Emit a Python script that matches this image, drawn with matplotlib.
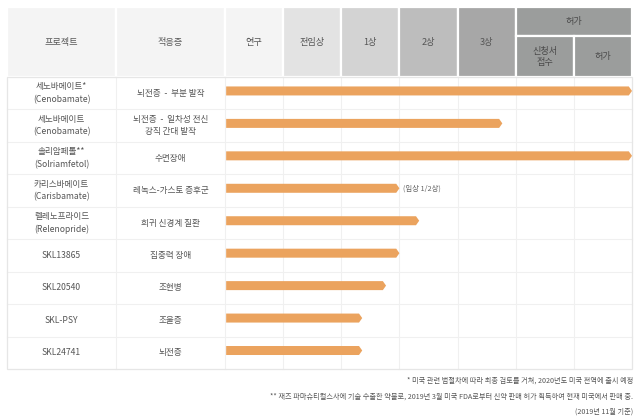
import matplotlib
matplotlib.use("Agg")
import matplotlib.pyplot as plt
from matplotlib.patches import Rectangle, Polygon

plt.rcParams['font.family'] = ['Noto Sans CJK KR', 'DejaVu Sans']

# ---------------- data ----------------
projects = ["세노바메이트*\n(Cenobamate)", "세노바메이트\n(Cenobamate)", "솔리암페톨**\n(Solriamfetol)",
            "카리스바메이트\n(Carisbamate)", "렐레노프라이드\n(Relenopride)", "SKL13865",
            "SKL20540", "SKL-PSY", "SKL24741"]
indications = ["뇌전증  -  부분 발작", "뇌전증  -  일차성 전신\n강직 간대 발작", "수면장애",
               "레녹스-가스토 증후군", "희귀 신경계 질환", "집중력 장애", "조현병", "조울증", "뇌전증"]
# progress measured in stage columns (0 = start of 연구, 7 = end of 허가)
progress = [7.0, 4.77, 7.0, 3.0, 3.34, 3.0, 2.77, 2.36, 2.36]
bar_notes = ["", "", "", "(임상 1/2상)", "", "", "", "", ""]
stages = ["연구", "전임상", "1상", "2상", "3상"]
approval_group = "허가"
approval_sub = ["신청서\n접수", "허가"]
footnotes = ["* 미국 관련 법절차에 따라 최종 검토를 거쳐, 2020년도 미국 전역에 출시 예정",
             "** 재즈 파마슈티컬스사에 기술 수출한 약물로, 2019년 3월 미국 FDA로부터 신약 판매 허가 획득하여 현재 미국에서 판매 중.",
             "(2019년 11월 기준)"]
hdr_project = "프로젝트"
hdr_indication = "적응증"

# ---------------- layout (pixels) ----------------
W, H = 640, 419
fig = plt.figure(figsize=(W / 100, H / 100), dpi=100)
fig.patch.set_facecolor("white")
bg = fig.add_axes([0, 0, 1, 1])
bg.set_xlim(0, W)
bg.set_ylim(H, 0)
bg.axis("off")

L, R = 7, 632
top, hb, bb = 7, 77, 369
c_proj, c_ind, c_stage = 7, 116, 225
sw = (R - c_stage) / 7.0
n = len(projects)
rh = (bb - hb) / n

txt = "#555555"
stage_colors = ["#F4F4F4", "#E3E3E3", "#D3D3D3", "#BDBDBD", "#A7A7A7"]
appr_color = "#9B9D9C"

def cell(x0, y0, x1, y1, fc):
    bg.add_patch(Rectangle((x0, y0), x1 - x0, y1 - y0, facecolor=fc,
                           edgecolor="white", linewidth=1.6, zorder=1))

fs_h = 6.6
cell(c_proj, top, c_ind, hb, "#F4F4F4")
bg.text((c_proj + c_ind) / 2, (top + hb) / 2, hdr_project, ha="center", va="center", fontsize=fs_h, color=txt)
cell(c_ind, top, c_stage, hb, "#F4F4F4")
bg.text((c_ind + c_stage) / 2, (top + hb) / 2, hdr_indication, ha="center", va="center", fontsize=fs_h, color=txt)
for i, s in enumerate(stages):
    x0 = c_stage + i * sw
    cell(x0, top, x0 + sw, hb, stage_colors[i])
    bg.text(x0 + sw / 2, (top + hb) / 2, s, ha="center", va="center", fontsize=fs_h, color=txt)
ax0 = c_stage + 5 * sw
mid = 36
cell(ax0, top, R, mid, appr_color)
bg.text((ax0 + R) / 2, (top + mid) / 2, approval_group, ha="center", va="center", fontsize=fs_h, color="#4a4a4a")
for j, s in enumerate(approval_sub):
    x0 = ax0 + j * sw
    cell(x0, mid, x0 + sw, hb, appr_color)
    bg.text(x0 + sw / 2, (mid + hb) / 2 + 0.5, s, ha="center", va="center", fontsize=fs_h,
            color="#4a4a4a", linespacing=1.2)

# body grid
grid_c = "#F0F0F0"
for i in range(1, n):
    y = hb + i * rh
    bg.plot([L, R], [y, y], color=grid_c, lw=0.8, zorder=2)
for x in [c_ind, c_stage] + [c_stage + k * sw for k in range(1, 7)]:
    bg.plot([x, x], [hb, bb], color=grid_c, lw=0.8, zorder=2)
bg.add_patch(Rectangle((L, hb), R - L, bb - hb, facecolor="none", edgecolor="#E6E6E6", lw=0.9, zorder=2))

fs_b = 6.2
for i in range(n):
    yc = hb + (i + 0.5) * rh
    bg.text((c_proj + c_ind) / 2, yc, projects[i], ha="center", va="center", fontsize=fs_b,
            color=txt, linespacing=1.5)
    bg.text((c_ind + c_stage) / 2, yc, indications[i], ha="center", va="center", fontsize=fs_b,
            color=txt, linespacing=1.5)

# footnotes
for k, f in enumerate(footnotes):
    bg.text(633, 381 + k * 15.5, f, ha="right", va="center", fontsize=5.15, color=txt)

# ---------------- bars in data coordinates ----------------
ax = fig.add_axes([c_stage / W, 1 - bb / H, (R - c_stage) / W, (bb - hb) / H])
ax.set_xlim(0, 7)
ax.set_ylim(n, 0)
ax.axis("off")
ax.patch.set_alpha(0)
bar_h = 9 / rh
tip = 3.2 / sw
bar_color = "#EBA35E"
for i, v in enumerate(progress):
    yc = i + 0.43
    y0, y1 = yc - bar_h / 2, yc + bar_h / 2
    poly = Polygon([(0.02, y0), (v - tip, y0), (v, yc), (v - tip, y1), (0.02, y1)],
                   closed=True, facecolor=bar_color, edgecolor="none", zorder=3)
    ax.add_patch(poly)
    if bar_notes[i]:
        ax.text(v + 4 / sw, yc, bar_notes[i], ha="left", va="center", fontsize=5.3, color="#666666")

fig.savefig("out.png", dpi=100, facecolor="white")
